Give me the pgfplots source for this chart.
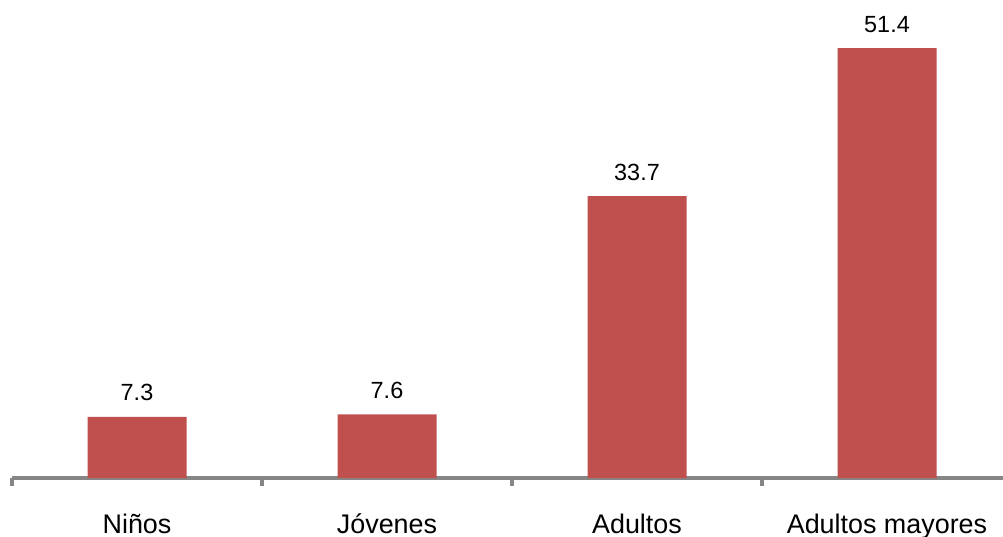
\documentclass[border=0pt]{standalone}
\usepackage{pgfplots}
\pgfplotsset{compat=1.18}
\usepackage{fontspec}
\setmainfont{Liberation Sans}
\definecolor{barred}{HTML}{C0504D}
\definecolor{axgray}{HTML}{868686}
\begin{document}
\begin{tikzpicture}
\useasboundingbox (-12bp,-59bp) rectangle (991bp,478bp);
\begin{axis}[
  at={(0,0)}, anchor=south west,
  scale only axis,
  width=991bp, height=478bp,
  xmin=-0.5, xmax=3.464,
  ymin=0, ymax=57.14,
  axis y line=none,
  axis x line=bottom,
  axis line style={axgray, line width=3.5bp, -},
  x axis line style={-},
  xtick={0,1,2,3},
  xticklabels={Niños, Jóvenes, Adultos, Adultos mayores},
  extra x ticks={-0.5,0.5,1.5,2.5},
  extra x tick labels={},
  extra x tick style={major tick length=8bp, tick style={axgray, line width=3.5bp}, tick align=outside},
  major tick length=0pt,
  xticklabel style={font=\fontsize{27}{30}\selectfont, inner sep=0pt, anchor=north, text height=19.3bp, text depth=0pt, yshift=-36bp, text=black},
  ybar, bar width=99bp,
  /pgf/number format/assume math mode=true,
  nodes near coords,
  nodes near coords style={/pgf/number format/fixed, /pgf/number format/precision=1},
  every node near coord/.append style={font=\fontsize{23.5}{28}\selectfont, inner sep=0pt, anchor=base, yshift=16bp, text=black},
  clip=false,
]
\addplot[fill=barred, draw=none] coordinates {(0,7.3) (1,7.6) (2,33.7) (3,51.4)};
\end{axis}
\end{tikzpicture}
\end{document}
